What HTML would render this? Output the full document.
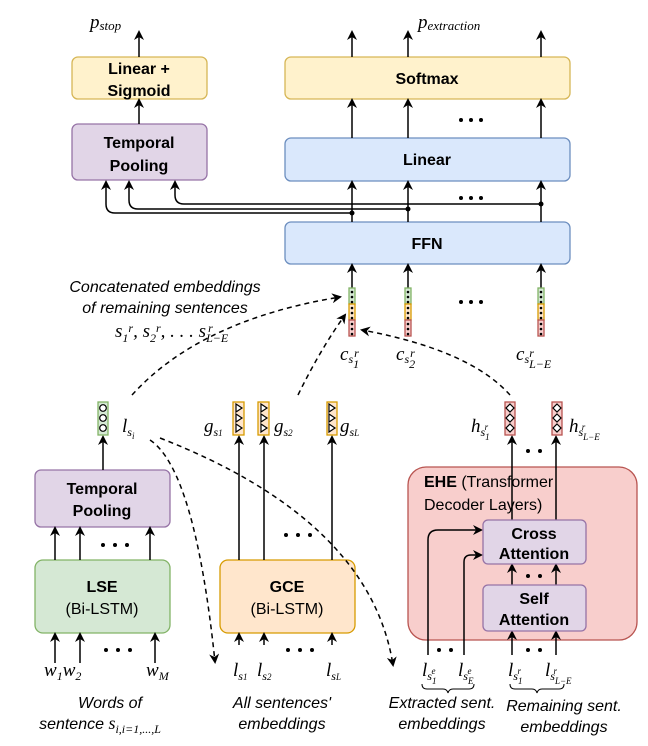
<!DOCTYPE html>
<html><head><meta charset="utf-8"><style>
body{margin:0;background:#fff}
svg{display:block}
.b{font-family:"Liberation Sans",sans-serif;font-weight:bold;font-size:16px;text-anchor:middle}
.n{font-family:"Liberation Sans",sans-serif;font-size:16px;text-anchor:middle}
.i{font-family:"Liberation Sans",sans-serif;font-style:italic;font-size:16px;text-anchor:middle}
.m{font-family:"Liberation Serif",serif;font-style:italic;font-size:19px}
.s{font-family:"Liberation Serif",serif;font-style:italic;font-size:12px}
.t{font-family:"Liberation Serif",serif;font-size:13px}
</style></head><body>
<svg width="648" height="746" viewBox="0 0 648 746">
<defs>
<marker id="a" markerWidth="10" markerHeight="10" refX="8" refY="5" orient="auto" markerUnits="userSpaceOnUse"><path d="M0,0 L10,5 L0,10 L3,5 z" fill="#000"/></marker>
</defs>
<!-- boxes -->
<g stroke-width="1.3">
<rect x="72" y="57" width="135" height="42" rx="6" fill="#fff2cc" stroke="#d6b656"/>
<rect x="72" y="124" width="135" height="56" rx="6" fill="#e1d5e7" stroke="#9673a6"/>
<rect x="285" y="57" width="285" height="42" rx="6" fill="#fff2cc" stroke="#d6b656"/>
<rect x="285" y="138" width="285" height="43" rx="6" fill="#dae8fc" stroke="#6c8ebf"/>
<rect x="285" y="222" width="285" height="42" rx="6" fill="#dae8fc" stroke="#6c8ebf"/>
<rect x="35" y="470" width="135" height="57" rx="6" fill="#e1d5e7" stroke="#9673a6"/>
<rect x="35" y="560" width="135" height="73" rx="8" fill="#d5e8d4" stroke="#82b366"/>
<rect x="220" y="560" width="135" height="73" rx="8" fill="#ffe6cc" stroke="#d79b00"/>
<rect x="408" y="467" width="229" height="173" rx="18" fill="#f8cecc" stroke="#b85450"/>
</g>
<g stroke="#000" stroke-width="1.5" fill="none" marker-end="url(#a)">
<line x1="139" y1="57" x2="139" y2="32"/>
<line x1="352" y1="57" x2="352" y2="32"/><line x1="408" y1="57" x2="408" y2="32"/><line x1="541" y1="57" x2="541" y2="32"/>
<line x1="139" y1="124" x2="139" y2="100"/>
<line x1="352" y1="138" x2="352" y2="100"/><line x1="408" y1="138" x2="408" y2="100"/><line x1="541" y1="138" x2="541" y2="100"/>
<line x1="352" y1="222" x2="352" y2="182"/><line x1="408" y1="222" x2="408" y2="182"/><line x1="541" y1="222" x2="541" y2="182"/>
<path d="M352,213 L115,213 Q106,213 106,204 L106,182"/>
<path d="M408,209 L138,209 Q129,209 129,200 L129,182"/>
<path d="M541,204 L184,204 Q175,204 175,195 L175,182"/>
<line x1="352" y1="288" x2="352" y2="265"/><line x1="408" y1="288" x2="408" y2="265"/><line x1="541" y1="288" x2="541" y2="265"/>
<line x1="103" y1="470" x2="103" y2="437"/>
<line x1="55" y1="560" x2="55" y2="528"/><line x1="80" y1="560" x2="80" y2="528"/><line x1="150" y1="560" x2="150" y2="528"/>
<line x1="55" y1="663" x2="55" y2="634"/><line x1="80" y1="663" x2="80" y2="634"/><line x1="155" y1="663" x2="155" y2="634"/>
<line x1="239" y1="560" x2="239" y2="437"/><line x1="264" y1="560" x2="264" y2="437"/><line x1="332" y1="560" x2="332" y2="437"/>
<line x1="239" y1="645" x2="239" y2="634"/><line x1="264" y1="645" x2="264" y2="634"/><line x1="332" y1="645" x2="332" y2="634"/>
<line x1="512" y1="520" x2="512" y2="437"/><line x1="556" y1="520" x2="556" y2="437"/>
<line x1="512" y1="585" x2="512" y2="565"/><line x1="556" y1="585" x2="556" y2="565"/>
<line x1="512" y1="655" x2="512" y2="632"/><line x1="556" y1="655" x2="556" y2="632"/>
<path d="M428,655 L428,540 Q428,530 438,530 L481,530"/>
<path d="M464,655 L464,562 Q464,555 471,555 L481,555"/>
</g>
<g stroke-width="1.3">
<rect x="483" y="520" width="103" height="44" rx="5" fill="#e1d5e7" stroke="#9673a6"/>
<rect x="483" y="585" width="103" height="46" rx="5" fill="#e1d5e7" stroke="#9673a6"/>
</g>
<g stroke="#000" stroke-width="1.5" fill="none" stroke-dasharray="5,4" marker-end="url(#a)">
<path d="M132,395 Q200,320 340,297"/>
<path d="M298,395 Q320,350 345,315"/>
<path d="M510,395 Q470,350 362,330"/>
<path d="M150,440 Q195,470 215,662"/>
<path d="M160,438 Q370,520 393,665"/>
</g>
<g fill="#000"><circle cx="352" cy="213" r="2.5"/><circle cx="408" cy="209" r="2.5"/><circle cx="541" cy="204" r="2.5"/></g>
<!-- vectors -->
<g stroke-width="1.3">
<rect x="98" y="402" width="10" height="33" fill="#d5e8d4" stroke="#82b366"/>
<rect x="233" y="402" width="11" height="33" fill="#ffe6cc" stroke="#d79b00"/>
<rect x="258" y="402" width="11" height="33" fill="#ffe6cc" stroke="#d79b00"/>
<rect x="327" y="402" width="10" height="33" fill="#ffe6cc" stroke="#d79b00"/>
<rect x="505" y="402" width="10" height="33" fill="#f8cecc" stroke="#b85450"/>
<rect x="552" y="402" width="10" height="33" fill="#f8cecc" stroke="#b85450"/>
</g>
<g fill="#fff" stroke="#000" stroke-width="1.2">
<circle cx="103" cy="408" r="3.3"/><circle cx="103" cy="418" r="3.3"/><circle cx="103" cy="428" r="3.3"/>
<path d="M236,404 l6,4 l-6,4z M236,414 l6,4 l-6,4z M236,424 l6,4 l-6,4z"/>
<path d="M261,404 l6,4 l-6,4z M261,414 l6,4 l-6,4z M261,424 l6,4 l-6,4z"/>
<path d="M329,404 l6,4 l-6,4z M329,414 l6,4 l-6,4z M329,424 l6,4 l-6,4z"/>
<path d="M510,404 l4,4 l-4,4 l-4,-4z M510,414 l4,4 l-4,4 l-4,-4z M510,424 l4,4 l-4,4 l-4,-4z"/>
<path d="M557,404 l4,4 l-4,4 l-4,-4z M557,414 l4,4 l-4,4 l-4,-4z M557,424 l4,4 l-4,4 l-4,-4z"/>
</g>
<g stroke-width="1.3">
<rect x="349" y="288" width="6" height="16" fill="#d5e8d4" stroke="#82b366"/><rect x="349" y="304" width="6" height="16" fill="#ffe6cc" stroke="#d79b00"/><rect x="349" y="320" width="6" height="16" fill="#f8cecc" stroke="#b85450"/>
<rect x="405" y="288" width="6" height="16" fill="#d5e8d4" stroke="#82b366"/><rect x="405" y="304" width="6" height="16" fill="#ffe6cc" stroke="#d79b00"/><rect x="405" y="320" width="6" height="16" fill="#f8cecc" stroke="#b85450"/>
<rect x="538" y="288" width="6" height="16" fill="#d5e8d4" stroke="#82b366"/><rect x="538" y="304" width="6" height="16" fill="#ffe6cc" stroke="#d79b00"/><rect x="538" y="320" width="6" height="16" fill="#f8cecc" stroke="#b85450"/>
</g>
<g fill="#000">
<circle cx="352" cy="292" r="1.3"/><circle cx="352" cy="297" r="1.3"/><circle cx="352" cy="302" r="1.3"/><circle cx="352" cy="308" r="1.3"/><circle cx="352" cy="313" r="1.3"/><circle cx="352" cy="318" r="1.3"/><circle cx="352" cy="324" r="1.3"/><circle cx="352" cy="329" r="1.3"/><circle cx="352" cy="334" r="1.3"/>
<circle cx="408" cy="292" r="1.3"/><circle cx="408" cy="297" r="1.3"/><circle cx="408" cy="302" r="1.3"/><circle cx="408" cy="308" r="1.3"/><circle cx="408" cy="313" r="1.3"/><circle cx="408" cy="318" r="1.3"/><circle cx="408" cy="324" r="1.3"/><circle cx="408" cy="329" r="1.3"/><circle cx="408" cy="334" r="1.3"/>
<circle cx="541" cy="292" r="1.3"/><circle cx="541" cy="297" r="1.3"/><circle cx="541" cy="302" r="1.3"/><circle cx="541" cy="308" r="1.3"/><circle cx="541" cy="313" r="1.3"/><circle cx="541" cy="318" r="1.3"/><circle cx="541" cy="324" r="1.3"/><circle cx="541" cy="329" r="1.3"/><circle cx="541" cy="334" r="1.3"/>
<circle cx="461" cy="120" r="2"/><circle cx="471" cy="120" r="2"/><circle cx="481" cy="120" r="2"/>
<circle cx="461" cy="198" r="2"/><circle cx="471" cy="198" r="2"/><circle cx="481" cy="198" r="2"/>
<circle cx="461" cy="302" r="2"/><circle cx="471" cy="302" r="2"/><circle cx="481" cy="302" r="2"/>
<circle cx="103" cy="545" r="2"/><circle cx="115" cy="545" r="2"/><circle cx="127" cy="545" r="2"/>
<circle cx="106" cy="650" r="2"/><circle cx="118" cy="650" r="2"/><circle cx="130" cy="650" r="2"/>
<circle cx="286" cy="535" r="2"/><circle cx="298" cy="535" r="2"/><circle cx="310" cy="535" r="2"/>
<circle cx="288" cy="650" r="2"/><circle cx="300" cy="650" r="2"/><circle cx="312" cy="650" r="2"/>
<circle cx="528" cy="451" r="2"/><circle cx="540" cy="451" r="2"/>
<circle cx="528" cy="576" r="2"/><circle cx="540" cy="576" r="2"/>
<circle cx="528" cy="650" r="2"/><circle cx="540" cy="650" r="2"/>
<circle cx="439" cy="650" r="2"/><circle cx="451" cy="650" r="2"/>
</g>
<g stroke="#000" stroke-width="1" fill="none">
<path d="M422,684 q0,5 5,5 l16,0 q4,0 5,4 q1,-4 5,-4 l16,0 q5,0 5,-5"/>
<path d="M510,684 q0,5 5,5 l17,0 q4,0 5,4 q1,-4 5,-4 l17,0 q5,0 5,-5"/>
</g>
<text class="b" x="139" y="74">Linear +</text><text class="b" x="139" y="96">Sigmoid</text>
<text class="b" x="139" y="148">Temporal</text><text class="b" x="139" y="171">Pooling</text>
<text class="b" x="427" y="84">Softmax</text>
<text class="b" x="427" y="165">Linear</text>
<text class="b" x="427" y="249">FFN</text>
<text class="b" x="102" y="494">Temporal</text><text class="b" x="102" y="516">Pooling</text>
<text class="b" x="102" y="592">LSE</text><text class="n" x="102" y="614">(Bi-LSTM)</text>
<text class="b" x="287" y="592">GCE</text><text class="n" x="287" y="614">(Bi-LSTM)</text>
<text class="n" x="424" y="487" style="text-anchor:start"><tspan font-weight="bold">EHE</tspan> (Transformer</text>
<text class="n" x="424" y="510" style="text-anchor:start">Decoder Layers)</text>
<text class="b" x="534" y="539">Cross</text><text class="b" x="534" y="559">Attention</text>
<text class="b" x="534" y="604">Self</text><text class="b" x="534" y="625">Attention</text>
<text class="m" x="90" y="28">p<tspan class="t" dy="2">stop</tspan></text>
<text class="m" x="418" y="28">p<tspan class="t" dy="2">extraction</tspan></text>
<text class="i" x="165" y="292">Concatenated embeddings</text>
<text class="i" x="165" y="313">of remaining sentences</text>
<text class="m" x="115" y="337">s<tspan class="s" dy="5">1</tspan><tspan class="s" dy="-10">r</tspan><tspan dy="5">, s</tspan><tspan class="s" dy="5">2</tspan><tspan class="s" dy="-10">r</tspan><tspan dy="5">, . . . s</tspan><tspan class="s" dy="5">L−E</tspan><tspan class="s" dx="-20" dy="-10">r</tspan></text>
<text class="m" x="340" y="360">c<tspan class="s" dy="3">s</tspan><tspan class="s" dy="5">1</tspan><tspan class="s" dx="-5" dy="-11">r</tspan></text>
<text class="m" x="396" y="360">c<tspan class="s" dy="3">s</tspan><tspan class="s" dy="5">2</tspan><tspan class="s" dx="-5" dy="-11">r</tspan></text>
<text class="m" x="516" y="360">c<tspan class="s" dy="3">s</tspan><tspan class="s" dy="5">L−E</tspan><tspan class="s" dx="-22" dy="-11">r</tspan></text>
<text class="m" x="122" y="432">l<tspan class="s" dy="4">s</tspan><tspan class="s" dy="3" style="font-size:9px">i</tspan></text>
<text class="m" x="204" y="432">g<tspan class="s" dy="4">s<tspan style="font-size:9px">1</tspan></tspan></text>
<text class="m" x="274" y="432">g<tspan class="s" dy="4">s<tspan style="font-size:9px">2</tspan></tspan></text>
<text class="m" x="340" y="432">g<tspan class="s" dy="4">s<tspan style="font-size:9px">L</tspan></tspan></text>
<text class="m" x="471" y="432">h<tspan class="s" dy="4">s</tspan><tspan class="s" dy="4" style="font-size:9px">1</tspan><tspan class="s" dx="-5" dy="-10" style="font-size:9px">r</tspan></text>
<text class="m" x="569" y="432">h<tspan class="s" dy="4">s</tspan><tspan class="s" dy="4" style="font-size:9px">L−E</tspan><tspan class="s" dx="-18" dy="-10" style="font-size:9px">r</tspan></text>
<text class="m" x="44" y="676">w<tspan class="s" dy="4">1</tspan><tspan dy="-4">w</tspan><tspan class="s" dy="4">2</tspan></text>
<text class="m" x="146" y="676">w<tspan class="s" dy="4">M</tspan></text>
<text class="m" x="233" y="676">l<tspan class="s" dy="4">s<tspan style="font-size:9px">1</tspan></tspan></text>
<text class="m" x="257" y="676">l<tspan class="s" dy="4">s<tspan style="font-size:9px">2</tspan></tspan></text>
<text class="m" x="326" y="676">l<tspan class="s" dy="4">s<tspan style="font-size:9px">L</tspan></tspan></text>
<text class="m" x="422" y="676">l<tspan class="s" dy="4">s</tspan><tspan class="s" dy="4" style="font-size:9px">1</tspan><tspan class="s" dx="-5" dy="-10" style="font-size:9px">e</tspan></text>
<text class="m" x="458" y="676">l<tspan class="s" dy="4">s</tspan><tspan class="s" dy="4" style="font-size:9px">E</tspan><tspan class="s" dx="-6" dy="-10" style="font-size:9px">e</tspan></text>
<text class="m" x="508" y="676">l<tspan class="s" dy="4">s</tspan><tspan class="s" dy="4" style="font-size:9px">1</tspan><tspan class="s" dx="-5" dy="-10" style="font-size:9px">r</tspan></text>
<text class="m" x="545" y="676">l<tspan class="s" dy="4">s</tspan><tspan class="s" dy="4" style="font-size:9px">L−E</tspan><tspan class="s" dx="-18" dy="-10" style="font-size:9px">r</tspan></text>
<text class="i" x="110" y="708">Words of</text>
<text class="i" x="100" y="729">sentence <tspan class="m" style="font-size:18px">s<tspan class="s" dy="4">i,i=1,...,L</tspan></tspan></text>
<text class="i" x="282" y="708">All sentences'</text>
<text class="i" x="282" y="729">embeddings</text>
<text class="i" x="442" y="708">Extracted sent.</text>
<text class="i" x="442" y="729">embeddings</text>
<text class="i" x="564" y="711">Remaining sent.</text>
<text class="i" x="564" y="732">embeddings</text>
</svg>
</body></html>
